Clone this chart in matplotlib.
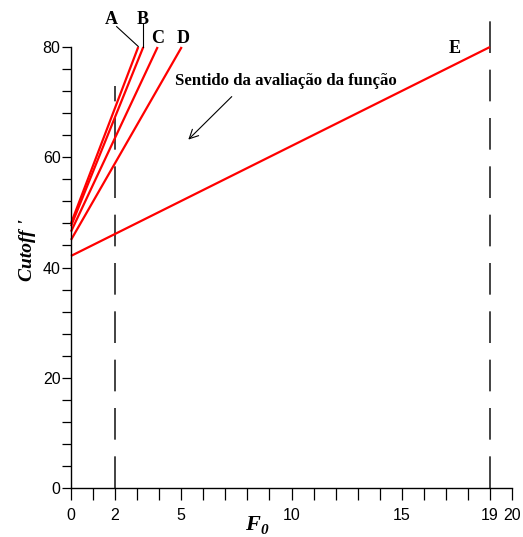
import numpy as np
import matplotlib
matplotlib.use('Agg')
from matplotlib import pyplot as plt

# line end points: (x0, y0) -> (x1, y1)
labels = ['A', 'B', 'C', 'D', 'E']
x_start = [0, 0, 0, 0, 0]
y_start = [48.0, 47.5, 46.5, 45.0, 42.1]
x_end = [3.05, 3.28, 3.93, 5.02, 19.0]
y_end = [80, 80, 80, 80, 80]

# label positions (data coords)
label_x = [1.81, 3.24, 3.93, 5.09, 17.39]
label_y = [85.0, 85.0, 81.6, 81.6, 79.8]

x_ticks = list(range(21))
x_tick_labels = ['0', '', '2', '', '', '5', '', '', '', '', '10',
                 '', '', '', '', '15', '', '', '', '19', '20']
y_ticks = list(range(0, 81, 4))
y_tick_labels = [str(v) if v % 20 == 0 else '' for v in y_ticks]

serif = ['Liberation Serif', 'DejaVu Serif']
sans = ['Liberation Sans', 'DejaVu Sans']

fig = plt.figure(figsize=(5.23, 5.37), dpi=100)
ax = fig.add_axes([71 / 523, 1 - 488 / 537, 441 / 523, 441 / 537])
ax.set_xlim(0, 20)
ax.set_ylim(0, 80)

for spine in ['top', 'right']:
    ax.spines[spine].set_visible(False)
for spine in ['left', 'bottom']:
    ax.spines[spine].set_linewidth(1.0)
    ax.spines[spine].set_color('black')

ax.set_xticks(x_ticks)
ax.set_xticklabels(x_tick_labels, fontfamily=sans, fontsize=11.5)
ax.set_yticks(y_ticks)
ax.set_yticklabels(y_tick_labels, fontfamily=sans, fontsize=11.5)
ax.tick_params(axis='x', direction='out', length=8.5, width=0.9, pad=6)
ax.tick_params(axis='y', direction='out', length=6.5, width=0.9, pad=1)

# dashed verticals at x = 2 and x = 19
for xv, ytop in [(2, 73.0), (19, 85.5)]:
    ln, = ax.plot([xv, xv], [0, ytop], color='#222222', lw=1.2, clip_on=False)
    ln.set_dashes((19, 10))

# red lines
for i in range(len(labels)):
    ax.plot([x_start[i], x_end[i]], [y_start[i], y_end[i]], color='red', lw=1.6,
            clip_on=False, solid_capstyle='butt')
    ax.text(label_x[i], label_y[i], labels[i], fontfamily=serif, fontweight='bold',
            fontsize=13, ha='center', va='center')

# leader lines from A and B labels
ax.plot([2.07, 3.05], [83.7, 80.1], color='black', lw=0.8, clip_on=False)
ax.plot([3.27, 3.27], [84.2, 80.0], color='black', lw=0.8, clip_on=False)

ax.text(4.72, 73.9, 'Sentido da avaliação da função', fontfamily=serif,
        fontweight='bold', fontsize=12.1, ha='left', va='center')
ax.annotate('', xy=(5.32, 63.2), xytext=(7.29, 71.0),
            arrowprops=dict(arrowstyle='->', color='black', lw=0.8,
                            mutation_scale=16, shrinkA=0, shrinkB=0))

fig.text(28 / 523, 1 - 250 / 537, "Cutoff '", fontfamily=serif, fontstyle='italic',
         fontweight='bold', fontsize=14, rotation=90, ha='center', va='center')
# F with subscript 0, both bold italic serif
fig.text(260 / 523, 1 - 525 / 537, 'F', fontfamily=serif, fontstyle='italic',
         fontweight='bold', fontsize=16, ha='right', va='center')
fig.text(260 / 523, 1 - 531 / 537, '0', fontfamily=serif, fontstyle='italic',
         fontweight='bold', fontsize=11, ha='left', va='center')

fig.savefig('out.png', dpi=100)
